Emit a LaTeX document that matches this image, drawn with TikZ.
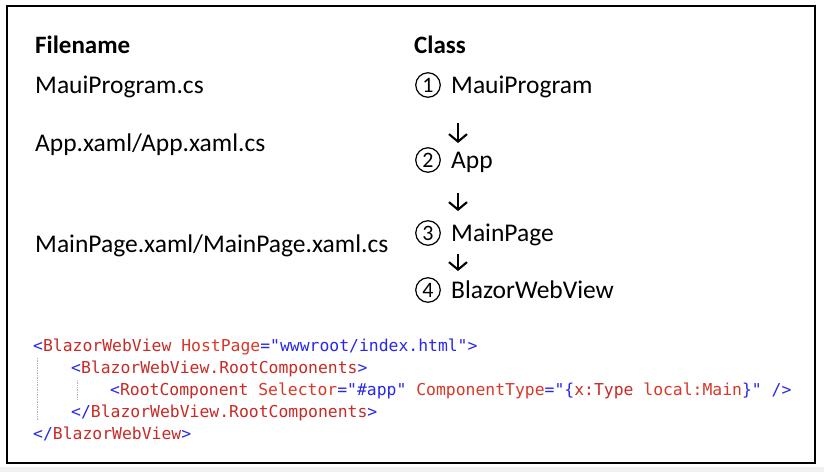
\documentclass[tikz,border=0pt]{standalone}
\usepackage{fontspec}
\setmainfont{Carlito}
\newfontfamily\codefont{DejaVu Sans Mono}
\usepackage{xcolor}
\usepackage{tikz}
\usetikzlibrary{arrows.meta,positioning}

\definecolor{xmlblue}{RGB}{40,40,235}
\definecolor{xmlelem}{RGB}{200,42,38}
\definecolor{xmlattr}{RGB}{218,55,40}
\newcommand\xb[1]{\textcolor{xmlblue}{#1}}
\newcommand\xe[1]{\textcolor{xmlelem}{#1}}
\newcommand\xa[1]{\textcolor{xmlattr}{#1}}

\begin{document}
\begin{tikzpicture}[x=1pt,y=-1pt,
    txt/.style={anchor=base west,inner sep=0pt,font=\fontsize{25.5}{28}\selectfont},
    head/.style={txt,font=\fontsize{25}{28}\selectfont\bfseries},
    num/.style={circle,draw,line width=1.2pt,minimum size=24.5pt,inner sep=0pt,
      font=\fontsize{22}{24}\selectfont},
    code/.style={anchor=base west,inner sep=0pt,font=\codefont\fontsize{16.4}{18}\selectfont},
    flow/.style={line width=2.1pt,-{Straight Barb[length=7.5pt,width=18pt,line width=2.1pt]}},
    guide/.style={gray!60,line width=0.7pt,densely dotted}]
  \useasboundingbox (0,0) rectangle (824,472);
  \fill[white] (0,0) rectangle (824,472);
  \fill[gray!12] (0,467) rectangle (824,472);
  \draw[line width=2.6pt] (7,6) rectangle (815,463);

  % headings
  \node[head] (fname) at (35,53) {Filename};
  \node[head] (cname) at (414,53) {Class};

  % file names
  \node[txt] (f1) at (35,93) {MauiProgram.cs};
  \node[txt] (f2) at (35,151) {App.xaml/App.xaml.cs};
  \node[txt] (f3) at (35,252) {MainPage.xaml/MainPage.xaml.cs};

  % classes
  \node[num] (n1) at (428,85) {1};
  \node[num] (n2) at (428,160) {2};
  \node[num] (n3) at (428,233) {3};
  \node[num] (n4) at (428,290) {4};
  \node[txt] (c1) at (451,93) {MauiProgram};
  \node[txt] (c2) at (451,168) {App};
  \node[txt] (c3) at (451,241) {MainPage};
  \node[txt] (c4) at (451,298) {BlazorWebView};

  \draw[flow] ([shift={(30pt,-38pt)}]n1.center) -- ([shift={(30pt,17pt)}]n2.center);
  \draw[flow] ([shift={(30pt,-33pt)}]n2.center) -- ([shift={(30pt,22pt)}]n3.center);
  \draw[flow] ([shift={(30pt,-21pt)}]n3.center) -- ([shift={(30pt,19pt)}]n4.center);

  % xaml snippet
  \draw[guide] (37,358) -- (37,420);
  \draw[guide] (77,380) -- (77,400);
  \node[code] (l1) at (33,351) {\xb{<}\xe{BlazorWebView} \xa{HostPage}\xb{="wwwroot/index.html">}};
  \node[code] (l2) at (71,373) {\xb{<}\xe{BlazorWebView.RootComponents}\xb{>}};
  \node[code] (l3) at (110,395) {\xb{<}\xe{RootComponent} \xa{Selector}\xb{="\#app"} \xa{ComponentType}\xb{="\{}\xe{x:Type} \xa{local:Main}\xb{\}"} \xb{/>}};
  \node[code] (l4) at (71,417) {\xb{</}\xe{BlazorWebView.RootComponents}\xb{>}};
  \node[code] (l5) at (33,439) {\xb{</}\xe{BlazorWebView}\xb{>}};
\end{tikzpicture}
\end{document}
